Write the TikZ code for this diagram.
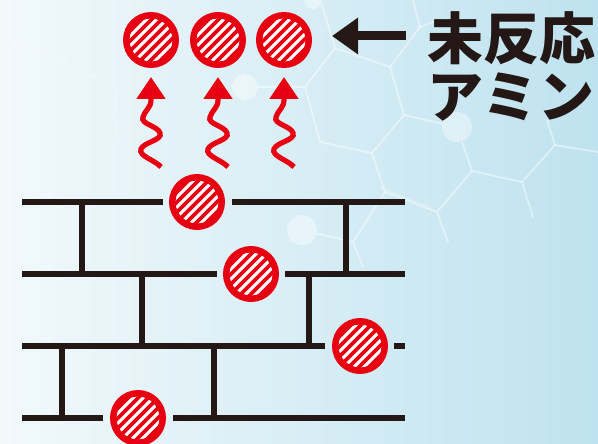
\documentclass[tikz,border=0pt]{standalone}
\usepackage{fontspec}
\newfontfamily\jpfont{Noto Sans CJK JP}
\usetikzlibrary{arrows.meta}
\definecolor{amred}{HTML}{E60012}
\definecolor{wallblack}{HTML}{231815}
\definecolor{bgleft}{HTML}{F2F9FB}
\definecolor{bgright}{HTML}{BEE2EF}
\tikzset{
  amine/.style={circle, minimum size=49.5pt, inner sep=0pt, outer sep=0pt,
    fill=white, draw=amred, line width=6.5pt,
    path picture={
      \begin{scope}[shift={(path picture bounding box.center)}]
        \foreach \s in {-60,-50,...,60}
          {\draw[amred, line width=3.6pt] (\s-40,40) -- (\s+40,-40);}
      \end{scope}}},
  wall/.style={wallblack, line width=5.8pt},
  wave/.style={amred, line width=5.2pt, line cap=butt,
    -{Triangle[width=28pt,length=22pt]}},
  pointer/.style={wallblack, line width=9pt,
    -{Triangle[width=35pt,length=26pt]}},
  net/.style={white, line width=1.8pt, opacity=0.45, line cap=round, line join=round},
  faintnet/.style={white, line width=1.2pt, opacity=0.3, line cap=round},
  atom/.style={circle, fill=white, opacity=0.4, inner sep=0pt, minimum size=#1},
  label/.style={font=\jpfont\bfseries\fontsize{56}{56}\selectfont,
    text=wallblack, inner sep=0pt},
}
\begin{document}
\begin{tikzpicture}[x=1pt, y=-1pt]
  % background
  \useasboundingbox (0,0) rectangle (598,444);
  \shade[left color=bgleft, right color=bgright] (0,0) rectangle (598,444);

  % faint molecular network
  \coordinate (nA) at (335,48);  \coordinate (nB) at (390,67);
  \coordinate (nC) at (420,27);  \coordinate (nE) at (404,115);
  \coordinate (nF) at (372,153); \coordinate (nG) at (320,142);
  \coordinate (nH) at (305,87);  \coordinate (nI) at (385,192);
  \coordinate (nJ) at (437,212); \coordinate (nK) at (353,242);
  \coordinate (nL) at (472,171); \coordinate (nM) at (522,182);
  \coordinate (nN) at (555,145);
  \node[atom=26pt] (at1) at (245,87) {};
  \node[atom=30pt] (at2) at (457,127) {};
  \node[atom=30pt] (at3) at (302,230) {};
  \node[atom=18pt] (at4) at (313,0) {};
  \draw[net] (nA) -- (nB) -- (nC) -- (413,0);
  \draw[net] (nC) -- (433,22);
  \draw[net] (nA) -- (322,5);
  \draw[net] (nB) -- (nE) -- (nF) -- (nG) -- (nH) -- (nA);
  \draw[net] (nH) -- (at1);
  \draw[net] (nE) -- (at2) -- (nL);
  \draw[net] (nF) -- (nI) -- (nJ) -- (448,242);
  \draw[net] (nI) -- (nK) -- (363,267);
  \draw[net] (nK) -- (at3);
  \draw[net] (nJ) -- (nL) -- (nM) -- (nN) -- (598,152);
  \draw[net] (nM) -- (533,217);
  \draw[net] (nN) -- (547,120);
  \draw[faintnet] (0,57) -- (23,43) -- (115,87) -- (117,140);
  \draw[faintnet] (380,188) -- (432,208);

  % brick-like network of the cured resin
  \draw[wall] (22,202) -- (163,202);  \draw[wall] (232,202) -- (405,202);
  \draw[wall] (22,274) -- (217,274);  \draw[wall] (285,274) -- (405,274);
  \draw[wall] (22,346) -- (325,346);  \draw[wall] (394,346) -- (405,346);
  \draw[wall] (22,418) -- (103,418);  \draw[wall] (173,418) -- (405,418);
  \draw[wall] (82,202) -- (82,274);   \draw[wall] (346,202) -- (346,274);
  \draw[wall] (142,274) -- (142,346); \draw[wall] (309,274) -- (309,346);
  \draw[wall] (62,346) -- (62,418);   \draw[wall] (214,346) -- (214,418);

  % trapped amines
  \node[amine] (b1) at (197,202) {};
  \node[amine] (b2) at (251,274) {};
  \node[amine] (b3) at (360,346) {};
  \node[amine] (b4) at (138,418) {};

  % released amines
  \node[amine] (t1) at (151,40) {};
  \node[amine] (t2) at (218,40) {};
  \node[amine] (t3) at (284,40) {};

  % wavy escape arrows
  \foreach \x/\n in {151/1,218/2,284/3}{
    \coordinate (w\n) at (\x+10,167);
    \draw[wave] (w\n) .. controls (\x+4,160) and (\x-13,156) .. (\x-10,149)
      .. controls (\x-7,142) and (\x+12,140) .. (\x+9,133)
      .. controls (\x+7,126) and (\x-11,124) .. (\x-8,117)
      .. controls (\x-6,110) and (\x,108) .. (\x,100) -- (\x,77);
  }

  % label and pointer
  \node[label] (lbl1) at (511,38) {未反応};
  \node[label] (lbl2) at (511,97) {アミン};
  \coordinate (ptail) at (406,36);
  \coordinate (phead) at (332,36);
  \draw[pointer] (ptail) -- (phead);
\end{tikzpicture}
\end{document}
